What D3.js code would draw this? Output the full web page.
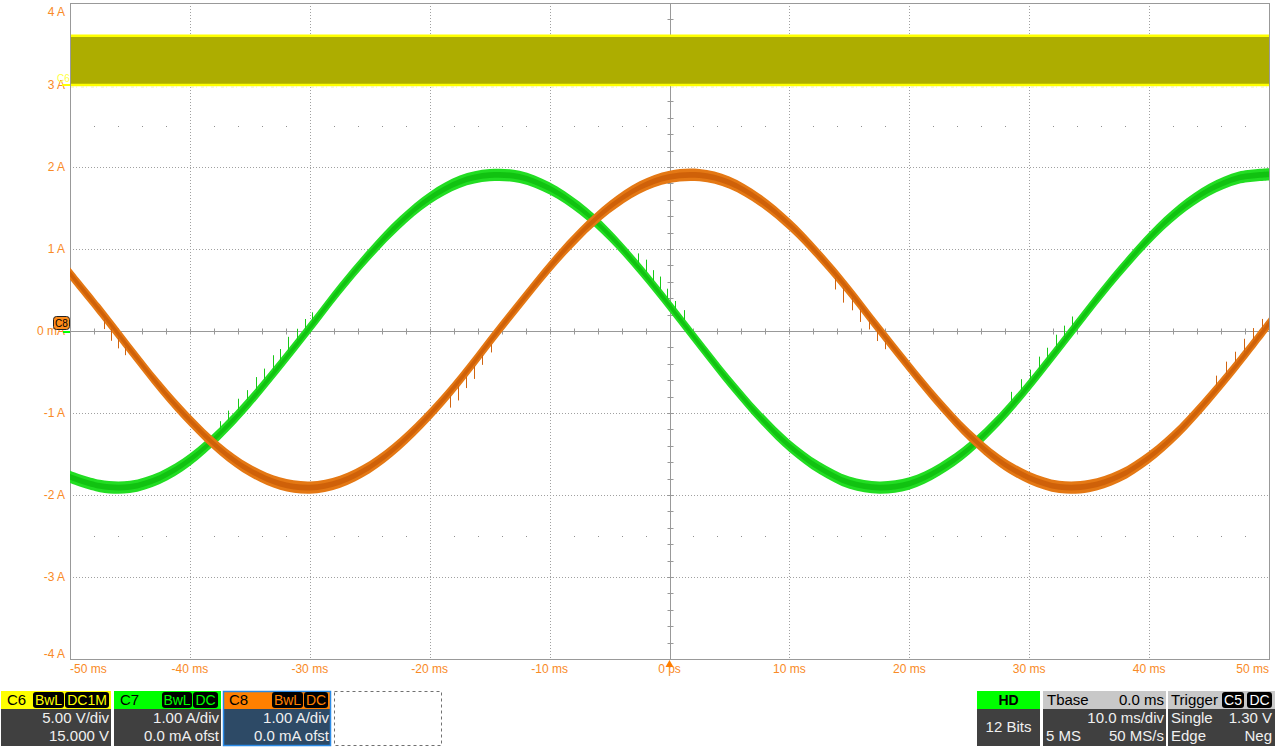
<!DOCTYPE html>
<html><head><meta charset="utf-8">
<script src="https://cdn.jsdelivr.net/npm/d3@7"></script>
<style>
body{margin:0;background:#fff;}
svg{display:block;font-family:"Liberation Sans",Arial,sans-serif;}
</style>
</head><body>
<svg id="c" width="1280" height="747"></svg>
<script>
// ---------------- data ----------------
const timeMs = [-50,-47.5,-45,-42.5,-40,-37.5,-35,-32.5,-30,-27.5,-25,-22.5,-20,-17.5,-15,-12.5,-10,-7.5,-5,-2.5,0,2.5,5,7.5,10,12.5,15,17.5,20,22.5,25,27.5,30,32.5,35,37.5,40,42.5,45,47.5,50];
// C7 (green) current, A
const c7Amps = [-1.78,-1.89,-1.90,-1.79,-1.57,-1.25,-0.86,-0.42,0.04,0.51,0.94,1.32,1.62,1.82,1.90,1.88,1.74,1.50,1.17,0.76,0.31,-0.16,-0.62,-1.04,-1.40,-1.67,-1.85,-1.91,-1.86,-1.69,-1.43,-1.08,-0.66,-0.20,0.27,0.72,1.13,1.47,1.72,1.87,1.91];
// C8 (orange) current, A
const c8Amps = [0.70,0.25,-0.22,-0.68,-1.09,-1.44,-1.70,-1.86,-1.91,-1.84,-1.66,-1.38,-1.02,-0.60,-0.13,0.33,0.78,1.18,1.51,1.75,1.88,1.90,1.81,1.60,1.30,0.92,0.49,0.02,-0.44,-0.88,-1.27,-1.58,-1.79,-1.90,-1.89,-1.77,-1.54,-1.22,-0.82,-0.38,0.09];
// C6 (yellow) PWM logic levels, V
const c6Levels = [0.0, 3.0];
// noise spikes [time ms, extra amplitude A]
const c7Spikes = [[-37.5,0.10],[-36.8,0.12],[-36.0,0.14],[-35.2,0.12],[-34.5,0.16],[-33.8,0.14],[-33.1,0.18],[-32.5,0.15],[-31.8,0.17],[-31.1,0.14],[-30.4,0.13],[-29.8,0.10],
  [-2.6,0.12],[-2.0,0.15],[-1.4,0.13],[-0.8,0.16],[-0.2,0.12],[0.5,0.10],[1.2,0.12],
  [28.5,0.12],[29.3,0.14],[30.1,0.12],[30.8,0.15],[31.5,0.13],[32.2,0.16],[32.9,0.14],[33.6,0.12]];
const c8Spikes = [[-47.2,-0.12],[-46.6,-0.15],[-46.0,-0.13],[-45.4,-0.10],
  [-18.3,-0.15],[-17.6,-0.18],[-17.0,-0.14],[-16.3,-0.16],[-15.6,-0.12],[-14.9,-0.10],
  [13.8,-0.14],[14.5,-0.18],[15.2,-0.15],[15.9,-0.16],[16.6,-0.12],[17.3,-0.13],[18.0,-0.10],
  [45.6,0.12],[46.4,0.15],[47.2,0.13],[47.9,0.16],[48.7,0.14],[49.4,0.12]];
const xTickValues = [-50,-40,-30,-20,-10,0,10,20,30,40,50];
const xTickLabels = ["-50 ms","-40 ms","-30 ms","-20 ms","-10 ms","0 ps","10 ms","20 ms","30 ms","40 ms","50 ms"];
const yTickValues = [4,3,2,1,0,-1,-2,-3,-4];
const yTickLabels = ["4 A","3 A","2 A","1 A","0 mA","-1 A","-2 A","-3 A","-4 A"];
const c6Info = ["C6","BwL","DC1M","5.00 V/div","15.000 V"];
const c7Info = ["C7","BwL","DC","1.00 A/div","0.0 mA ofst"];
const c8Info = ["C8","BwL","DC","1.00 A/div","0.0 mA ofst"];
const hdInfo = ["HD","12 Bits"];
const tbaseInfo = ["Tbase","0.0 ms","10.0 ms/div","5 MS","50 MS/s"];
const trigInfo = ["Trigger","C5","DC","Single","1.30 V","Edge","Neg"];

// ---------------- layout ----------------
const L = 70, R = 1269, T = 3, B = 659;
const svg = d3.select("#c");
const x = d3.scaleLinear().domain([-50, 50]).range([L, R]);
const y = d3.scaleLinear().domain([-4, 4]).range([B, T]);
const yV = d3.scaleLinear().domain([-35, 5]).range([B, T]); // C6: 5 V/div, 15 V offset
const gridCol = "#a0a0a0";
const labelCol = "#f98a26";

const g = svg.append("g");
// dotted grid
g.selectAll("line.vg").data(d3.range(-40, 50, 10)).join("line")
  .attr("x1", d => Math.round(x(d)) + 0.5).attr("x2", d => Math.round(x(d)) + 0.5)
  .attr("y1", T).attr("y2", B).attr("stroke", gridCol).attr("stroke-dasharray", "1,2");
g.selectAll("line.hg").data(d3.range(-3, 4, 1)).join("line")
  .attr("y1", d => Math.round(y(d)) + 0.5).attr("y2", d => Math.round(y(d)) + 0.5)
  .attr("x1", L).attr("x2", R).attr("stroke", gridCol).attr("stroke-dasharray", "1,2");
// dot rows at +/-2.5 div
const dotXs = d3.range(-50, 50.01, 2).filter(d => Math.abs(d % 10) > 1e-6);
[2.5, -2.5].forEach(r => {
  g.selectAll(null).data(dotXs).join("rect")
    .attr("x", d => Math.round(x(d))).attr("y", Math.round(y(r)))
    .attr("width", 1).attr("height", 1).attr("fill", "#909090");
});
// center axes
const cx = Math.round(x(0)) + 0.5, cy = Math.round(y(0)) + 0.5;
g.append("line").attr("x1", cx).attr("x2", cx).attr("y1", T).attr("y2", B).attr("stroke", "#999");
g.append("line").attr("x1", L).attr("x2", R).attr("y1", cy).attr("y2", cy).attr("stroke", "#999");
g.selectAll(null).data(d3.range(-50, 50.01, 2)).join("line")
  .attr("x1", d => Math.round(x(d)) + 0.5).attr("x2", d => Math.round(x(d)) + 0.5)
  .attr("y1", cy - 3).attr("y2", cy + 3).attr("stroke", "#999");
g.selectAll(null).data(d3.range(-4, 4.01, 0.2)).join("line")
  .attr("y1", d => Math.round(y(d)) + 0.5).attr("y2", d => Math.round(y(d)) + 0.5)
  .attr("x1", cx - 3).attr("x2", cx + 3).attr("stroke", "#999");
// border
g.append("rect").attr("x", L + 0.5).attr("y", T + 0.5).attr("width", R - L).attr("height", B - T)
  .attr("fill", "none").attr("stroke", "#999");

// C6 band
const band = svg.append("g");
band.append("rect").attr("x", L + 1).attr("width", R - L - 1)
  .attr("y", yV(c6Levels[1])).attr("height", yV(c6Levels[0]) - yV(c6Levels[1]))
  .attr("fill", "#adad00");
c6Levels.forEach(v => {
  band.append("line").attr("x1", L + 1).attr("x2", R).attr("y1", yV(v)).attr("y2", yV(v))
    .attr("stroke", "#ffff00").attr("stroke-width", 2.6);
});
band.append("line").attr("x1", L + 1).attr("x2", R).attr("y1", yV(c6Levels[0]) + 2).attr("y2", yV(c6Levels[0]) + 2)
  .attr("stroke", "#f4f4a0").attr("stroke-width", 1).attr("stroke-dasharray", "3,2,1,4");

// traces
function valueAt(arr, t) {
  const i = Math.max(0, Math.min(timeMs.length - 2, d3.bisectRight(timeMs, t) - 1));
  const f = (t - timeMs[i]) / (timeMs[i + 1] - timeMs[i]);
  return arr[i] + f * (arr[i + 1] - arr[i]);
}
function drawTrace(arr, spikes, outer, inner, spikeCol) {
  const tr = svg.append("g");
  const pts = timeMs.map((t, i) => [t, arr[i]]);
  const area = (w) => d3.area().x(d => x(d[0])).y0(d => y(d[1] - w)).y1(d => y(d[1] + w)).curve(d3.curveCatmullRom);
  tr.append("path").attr("d", area(0.075)(pts)).attr("fill", outer);
  tr.append("path").attr("d", area(0.035)(pts)).attr("fill", inner).attr("opacity", 0.75);
  tr.selectAll(null).data(spikes).join("line")
    .attr("x1", d => Math.round(x(d[0])) + 0.5).attr("x2", d => Math.round(x(d[0])) + 0.5)
    .attr("y1", d => y(valueAt(arr, d[0]) + Math.sign(d[1]) * 0.05))
    .attr("y2", d => y(valueAt(arr, d[0]) + Math.sign(d[1]) * 0.05 + d[1]))
    .attr("stroke", spikeCol).attr("stroke-width", 1);
}
drawTrace(c7Amps, c7Spikes, "#22dd22", "#0cb80c", "#18c818");
drawTrace(c8Amps, c8Spikes, "#e47814", "#c85a06", "#d06410");

// axis labels
svg.selectAll("text.yl").data(yTickValues).join("text")
  .attr("x", 65).attr("y", d => Math.min(Math.max(y(d), 12), 654))
  .attr("dy", "0.35em").attr("text-anchor", "end").attr("font-size", 12).attr("fill", labelCol)
  .text((d, i) => yTickLabels[i]);
svg.selectAll("text.xl").data(xTickValues).join("text")
  .attr("x", d => x(d)).attr("y", 673)
  .attr("text-anchor", (d, i) => i === 0 ? "start" : (i === xTickValues.length - 1 ? "end" : "middle"))
  .attr("font-size", 12).attr("fill", labelCol)
  .text((d, i) => xTickLabels[i]);

// channel markers
svg.append("text").attr("x", 57).attr("y", 82).attr("font-size", 10).attr("fill", "#ffff40").text("C6");
svg.append("line").attr("x1", 62).attr("x2", 70).attr("y1", yV(c6Levels[0])).attr("y2", yV(c6Levels[0])).attr("stroke", "#ffff00").attr("stroke-width", 2);
svg.append("line").attr("x1", 63).attr("x2", 70).attr("y1", y(0) + 1).attr("y2", y(0) + 1).attr("stroke", "#00ff00").attr("stroke-width", 2);
svg.append("rect").attr("x", 53.5).attr("y", 316.5).attr("width", 16).attr("height", 13).attr("rx", 3)
  .attr("fill", "#ff8c1a").attr("stroke", "#222");
svg.append("text").attr("x", 61.5).attr("y", 327).attr("text-anchor", "middle").attr("font-size", 10).attr("fill", "#000").text("C8");
// trigger marker
svg.append("path").attr("d", `M${x(0)},660 L${x(0) + 4},667 L${x(0) - 4},667 Z`).attr("fill", "#ff7f00");

// ---------------- status bar ----------------
const sb = svg.append("g").attr("font-size", 15);
function tag(x0, w, txt, col) {
  sb.append("rect").attr("x", x0).attr("y", 692).attr("width", w).attr("height", 16).attr("rx", 3).attr("fill", "#000");
  sb.append("text").attr("x", x0 + w / 2).attr("y", 705).attr("text-anchor", "middle").attr("font-size", 14).attr("fill", col).text(txt);
}
function chanPanel(x0, w, info, headCol, bodyCol, tags, border) {
  sb.append("rect").attr("x", x0).attr("y", 691).attr("width", w).attr("height", 18).attr("fill", headCol);
  sb.append("rect").attr("x", x0).attr("y", 709).attr("width", w).attr("height", 37).attr("fill", bodyCol);
  if (border) sb.append("rect").attr("x", x0 + 0.5).attr("y", 691.5).attr("width", w - 1).attr("height", 54).attr("fill", "none").attr("stroke", border).attr("stroke-width", 1.5);
  sb.append("text").attr("x", x0 + 6).attr("y", 705).attr("fill", "#000").text(info[0]);
  tag(tags[0], tags[1], info[1], headCol);
  tag(tags[2], tags[3], info[2], headCol);
  sb.append("text").attr("x", x0 + w - 2).attr("y", 723).attr("text-anchor", "end").attr("fill", "#f0f0f0").text(info[3]);
  sb.append("text").attr("x", x0 + w - 2).attr("y", 741).attr("text-anchor", "end").attr("fill", "#f0f0f0").text(info[4]);
}
chanPanel(1, 110, c6Info, "#ffff00", "#404040", [33, 31, 65, 44]);
chanPanel(114, 107, c7Info, "#00ff00", "#404040", [162, 30, 193, 25]);
chanPanel(223, 108, c8Info, "#ff8000", "#2d4a66", [272, 31, 304, 24], "#2a8ae6");
sb.append("rect").attr("x", 334.5).attr("y", 691.5).attr("width", 107).attr("height", 54).attr("fill", "#fff")
  .attr("stroke", "#707070").attr("stroke-dasharray", "3,3");

// HD
sb.append("rect").attr("x", 977).attr("y", 691).attr("width", 63).attr("height", 18).attr("fill", "#00ff00");
sb.append("rect").attr("x", 977).attr("y", 709).attr("width", 63).attr("height", 37).attr("fill", "#404040");
sb.append("text").attr("x", 1008.5).attr("y", 705).attr("text-anchor", "middle").attr("font-weight", "bold").attr("font-size", 14).attr("fill", "#000").text(hdInfo[0]);
sb.append("text").attr("x", 1008.5).attr("y", 732).attr("text-anchor", "middle").attr("fill", "#f0f0f0").text(hdInfo[1]);
// Tbase
sb.append("rect").attr("x", 1043).attr("y", 691).attr("width", 123).attr("height", 18).attr("fill", "#c8c8c8");
sb.append("rect").attr("x", 1043).attr("y", 709).attr("width", 123).attr("height", 37).attr("fill", "#404040");
sb.append("text").attr("x", 1047).attr("y", 705).attr("fill", "#000").text(tbaseInfo[0]);
sb.append("text").attr("x", 1164).attr("y", 705).attr("text-anchor", "end").attr("fill", "#000").text(tbaseInfo[1]);
sb.append("text").attr("x", 1164).attr("y", 723).attr("text-anchor", "end").attr("fill", "#f0f0f0").text(tbaseInfo[2]);
sb.append("text").attr("x", 1046).attr("y", 741).attr("fill", "#f0f0f0").text(tbaseInfo[3]);
sb.append("text").attr("x", 1164).attr("y", 741).attr("text-anchor", "end").attr("fill", "#f0f0f0").text(tbaseInfo[4]);
// Trigger
sb.append("rect").attr("x", 1168).attr("y", 691).attr("width", 107).attr("height", 18).attr("fill", "#c8c8c8");
sb.append("rect").attr("x", 1168).attr("y", 709).attr("width", 107).attr("height", 37).attr("fill", "#404040");
sb.append("text").attr("x", 1171).attr("y", 705).attr("fill", "#000").text(trigInfo[0]);
tag(1222, 22, trigInfo[1], "#fff");
tag(1247, 25, trigInfo[2], "#fff");
sb.append("text").attr("x", 1171).attr("y", 723).attr("fill", "#f0f0f0").text(trigInfo[3]);
sb.append("text").attr("x", 1272).attr("y", 723).attr("text-anchor", "end").attr("fill", "#f0f0f0").text(trigInfo[4]);
sb.append("text").attr("x", 1171).attr("y", 741).attr("fill", "#f0f0f0").text(trigInfo[5]);
sb.append("text").attr("x", 1272).attr("y", 741).attr("text-anchor", "end").attr("fill", "#f0f0f0").text(trigInfo[6]);
</script>
</body></html>
